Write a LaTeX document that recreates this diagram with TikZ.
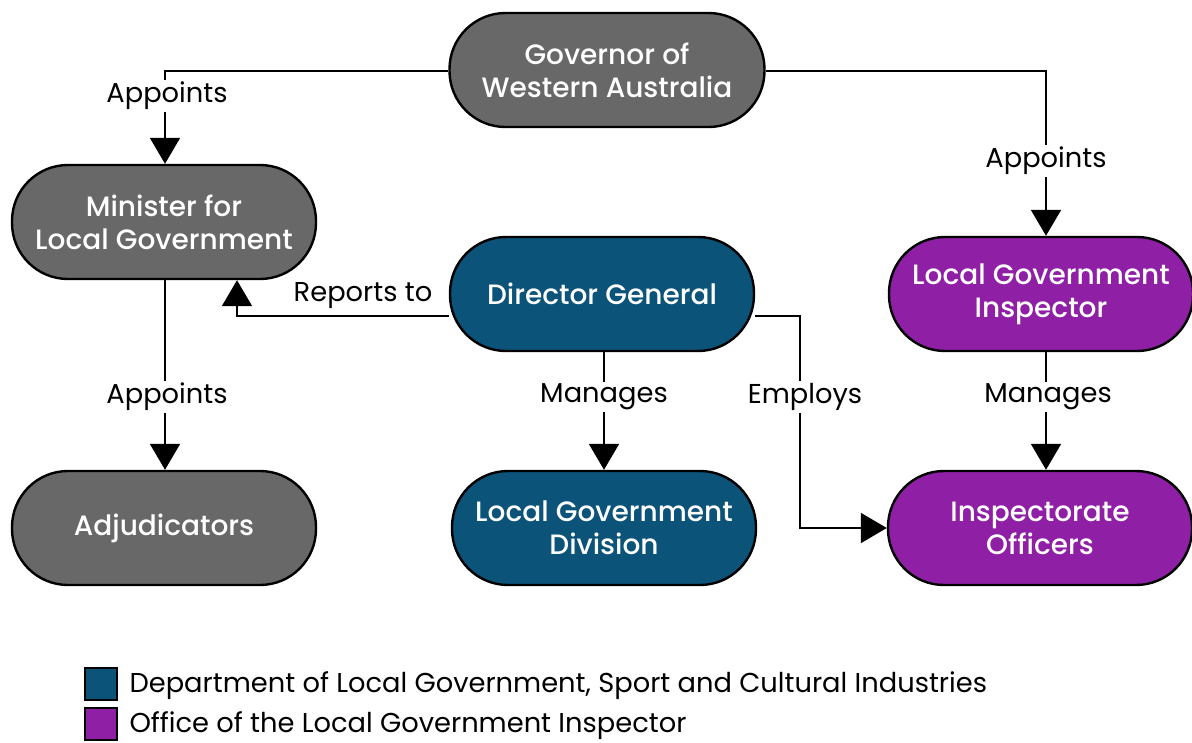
\documentclass[tikz,border=0pt]{standalone}
\usepackage{fontspec}
\setmainfont{Poppins}
\newfontfamily\boxfont{Poppins Medium}
\usetikzlibrary{arrows.meta}
\definecolor{govgray}{RGB}{104,104,104}
\definecolor{deptblue}{RGB}{11,83,121}
\definecolor{inspurple}{RGB}{143,31,165}
\tikzset{
  pill/.style={draw=black, line width=2.4pt, rounded corners=56pt, minimum height=114pt,
    minimum width=304pt, align=center, text=white, font=\boxfont\fontsize{28}{33}\selectfont},
  govpill/.style={pill, fill=govgray},
  deptpill/.style={pill, fill=deptblue},
  inspill/.style={pill, fill=inspurple},
  link/.style={line width=2pt, -{Triangle[width=30pt,length=26pt]}},
  lbl/.style={fill=white, inner sep=2pt, font=\fontsize{27.3}{30}\selectfont},
  legendbox/.style={draw=black, line width=2pt, minimum size=32pt, inner sep=0pt}
}
\begin{document}
\begin{tikzpicture}[x=1pt, y=-1pt]
\useasboundingbox (0,0) rectangle (1192,742);
% organisation boxes
\node[govpill, minimum width=315pt] (gov) at (607,70) {Governor of\\Western Australia};
\node[govpill] (min) at (164,222) {Minister for\\Local Government};
\node[deptpill] (dg) at (602,294) {Director General};
\node[inspill] (lgi) at (1041,294) {Local Government\\Inspector};
\node[govpill] (adj) at (164,528) {Adjudicators};
\node[deptpill] (lgd) at (604,528) {Local Government\\Division};
\node[inspill] (off) at (1040,528) {Inspectorate\\Officers};
% corner points of the elbow connectors
\coordinate (gl) at (165,71);
\coordinate (gr) at (1046,71);
\coordinate (rp) at (237,316);
\coordinate (eu) at (800,316);
\coordinate (ed) at (800,528);
% connectors
\draw[link] (gov.west |- gl) -- (gl) -- (gl |- min.north);
\draw[link] (gov.east |- gr) -- (gr) -- (gr |- lgi.north);
\draw[link] (min.south -| gl) -- (adj.north -| gl);
\draw[link] (dg.west |- rp) -- (rp) -- (rp |- min.south);
\draw[link] (dg.south -| lgd.north) -- (lgd.north);
\draw[link] (lgi.south -| gr) -- (off.north -| gr);
\draw[link] (dg.east |- eu) -- (eu) -- (ed) -- (off.west);
% connector labels
\node[lbl] (a1) at (167,96) {Appoints};
\node[lbl] (a2) at (1046,161) {Appoints};
\node[lbl] (a3) at (167,397) {Appoints};
\node[lbl, fill=none] (r1) at (363,296) {Reports to};
\node[lbl] (m1) at (604,397) {Manages};
\node[lbl] (m2) at (1048,397) {Manages};
\node[lbl] (e1) at (805,397) {Employs};
% legend
\node[legendbox, fill=deptblue] (k1) at (101,684) {};
\node[legendbox, fill=inspurple] (k2) at (101,724) {};
\node[anchor=west, font=\fontsize{27.3}{30}\selectfont] (t1) at (126,686) {Department of Local Government, Sport and Cultural Industries};
\node[anchor=west, font=\fontsize{27.3}{30}\selectfont] (t2) at (126,726) {Office of the Local Government Inspector};
\end{tikzpicture}
\end{document}
